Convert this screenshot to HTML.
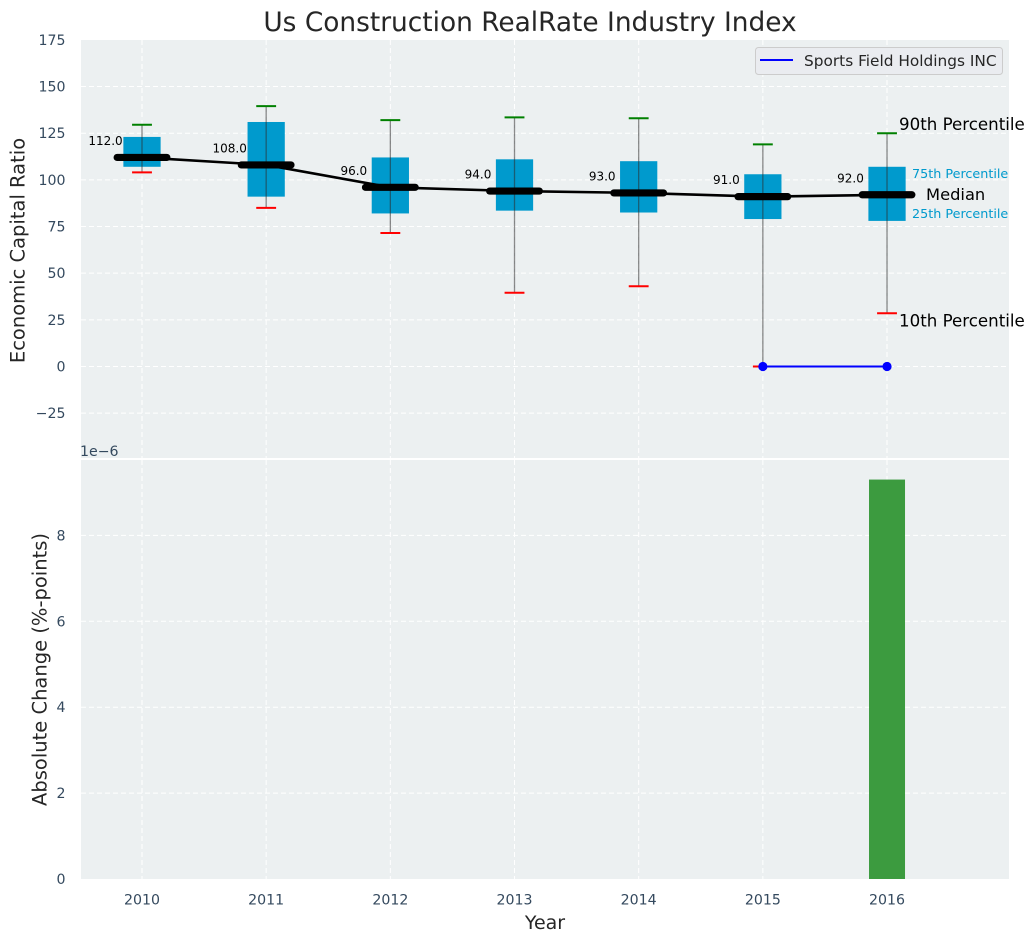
<!DOCTYPE html>
<html>
<head>
<meta charset="utf-8">
<title>Us Construction RealRate Industry Index</title>
<style>
html,body{margin:0;padding:0;background:#fff;width:1034px;height:942px;overflow:hidden}
svg{display:block}
text{font-family:"DejaVu Sans","Liberation Sans",sans-serif}
</style>
</head>
<body>
<svg id="chart" xmlns="http://www.w3.org/2000/svg" width="1034" height="942" viewBox="0 0 1034 942"></svg>
<script>
const years = [2010, 2011, 2012, 2013, 2014, 2015, 2016];
const p10 = [104, 85, 71.5, 39.5, 43, 0, 28.5];
const p25 = [107, 91, 82, 83.5, 82.5, 79, 78];
const medians = [112, 108, 96, 94, 93, 91, 92];
const p75 = [123, 131, 112, 111, 110, 103, 107];
const p90 = [129.5, 139.5, 132, 133.5, 133, 119, 125];
const companyYears = [2015, 2016];
const companyValues = [0, 0];
const changeYears = [2016];
const changeValues = [9.3];
const topTicks = [-25, 0, 25, 50, 75, 100, 125, 150, 175];
const bottomTicks = [0, 2, 4, 6, 8];
const titleText = 'Us Construction RealRate Industry Index';
const legendLabel = 'Sports Field Holdings INC';

const svg = document.getElementById('chart');
const NS = 'http://www.w3.org/2000/svg';
const left = 81, right = 1009;
const topY0 = 40, topY1 = 458, botY0 = 460, botY1 = 879;
const tickSize = 14.15;

function x(v) { return 142 + (v - 2010) * 124.17; }
function yTop(v) { return 366.5 - v * 1.8665; }
function yBot(v) { return 879 - v * 42.95; }

function make(tag, attrs, text) {
  const el = document.createElementNS(NS, tag);
  for (const k in attrs) el.setAttribute(k, attrs[k]);
  if (text !== undefined) el.textContent = text;
  svg.appendChild(el);
  return el;
}
function line(x1, y1, x2, y2, stroke, width, extra) {
  return make('line', Object.assign({x1: x1, y1: y1, x2: x2, y2: y2, stroke: stroke, 'stroke-width': width}, extra || {}));
}
function label(px, py, str, size, fill, anchor, extra) {
  return make('text', Object.assign({x: px, y: py, 'font-size': size, fill: fill, 'text-anchor': anchor || 'start'}, extra || {}), str);
}
function num(v) { return String(v).replace('-', '\u2212'); }

/* panels */
const topPanel = make('rect', {x: left, y: topY0, width: right - left, height: topY1 - topY0, fill: '#ecf0f1'});


const botPanel = make('rect', {x: left, y: botY0, width: right - left, height: botY1 - botY0, fill: '#ecf0f1'});



/* grid + ticks */
const dash = {'stroke-dasharray': '5 3'};
topTicks.forEach(function (t) {
  if (t < 175) {
    const g = line(left, yTop(t), right, yTop(t), '#ffffff', 1, dash);
    
    
  }
  const l = label(65.5, yTop(t) + 5, num(t), tickSize, '#34495e', 'end');
  
  
});
bottomTicks.forEach(function (t) {
  if (t > 0) {
    const g = line(left, yBot(t), right, yBot(t), '#ffffff', 1, dash);
    
    
  }
  const l = label(65.5, yBot(t) + 5, num(t), tickSize, '#34495e', 'end');
  
  
});
years.forEach(function (yr) {
  const g1 = line(x(yr), topY0, x(yr), topY1, '#ffffff', 1, dash);
  
  
  const g2 = line(x(yr), botY0, x(yr), botY1, '#ffffff', 1, dash);
  
  
  const l = label(x(yr), 904.5, String(yr), tickSize, '#34495e', 'middle');
  
  
});

/* boxes */
const boxHalf = 0.15, capHalf = 0.08, medHalf = 0.2;
years.forEach(function (yr, i) {
  const box = make('rect', {
    x: x(yr - boxHalf), y: yTop(p75[i]),
    width: x(yr + boxHalf) - x(yr - boxHalf),
    height: yTop(p25[i]) - yTop(p75[i]),
    fill: '#009acd'
  });
  
  
  const w = line(x(yr), yTop(p90[i]), x(yr), yTop(p10[i]), '#2b2b2b', 1.3, {'stroke-opacity': 0.55});
  
  
  const c1 = line(x(yr - capHalf), yTop(p90[i]), x(yr + capHalf), yTop(p90[i]), '#008000', 2);
  
  
  const c2 = line(x(yr - capHalf), yTop(p10[i]), x(yr + capHalf), yTop(p10[i]), '#ff0000', 2);
  
  
});

/* median connector */
const medianPath = make('polyline', {
  points: years.map(function (yr, i) { return x(yr) + ',' + yTop(medians[i]); }).join(' '),
  fill: 'none', stroke: '#000000', 'stroke-width': 2.6
});



years.forEach(function (yr, i) {
  const m = line(x(yr - medHalf), yTop(medians[i]), x(yr + medHalf), yTop(medians[i]), '#000000', 7.2, {'stroke-linecap': 'round'});
  
  
  const t = label(x(yr) - 36.5, yTop(medians[i]) - 12.5, medians[i].toFixed(1), 12, '#000000', 'middle');
  
  
});

/* company series */
const companyLine = make('polyline', {
  points: companyYears.map(function (yr, i) { return x(yr) + ',' + yTop(companyValues[i]); }).join(' '),
  fill: 'none', stroke: '#0000ff', 'stroke-width': 2
});


companyYears.forEach(function (yr, i) {
  const d = make('circle', {cx: x(yr), cy: yTop(companyValues[i]), r: 4.6, fill: '#0000ff'});
  
  
});

/* percentile annotations on the last box */
const last = years.length - 1;
const lastX = x(years[last]);
const a90 = label(lastX + 12, yTop(p90[last]) - 3, '90th Percentile', 16.67, '#000000');


const a10 = label(lastX + 12, yTop(p10[last]) + 13, '10th Percentile', 16.67, '#000000');


const aMed = label(lastX + 39, yTop(medians[last]) + 5, 'Median', 16.3, '#000000');


const a75 = label(lastX + 25, yTop(p75[last]) + 11, '75th Percentile', 12.75, '#009acd');


const a25 = label(lastX + 25, yTop(p25[last]) - 3, '25th Percentile', 12.75, '#009acd');



/* change bars */
changeYears.forEach(function (yr, i) {
  const b = make('rect', {
    x: x(yr - 0.145), y: yBot(changeValues[i]),
    width: x(yr + 0.145) - x(yr - 0.145),
    height: yBot(0) - yBot(changeValues[i]),
    fill: '#3c9b3f'
  });
  
  
});

/* legend */
const legendBox = make('rect', {x: 755.5, y: 47.5, width: 247, height: 27, rx: 3, fill: '#eaecf0', stroke: '#cccccc', 'stroke-width': 1});


const legendSwatch = line(760, 60, 793, 60, '#0000ff', 2);


const legendText = label(804, 66, legendLabel, 15.35, '#262626');



/* titles */
const title = label(530, 31, titleText, 26.4, '#262626', 'middle');


const xTitle = label(545, 929, 'Year', 19, '#262626', 'middle');


const yTitleTop = label(0, 0, 'Economic Capital Ratio', 19.5, '#262626', 'middle', {transform: 'translate(24.5 250.5) rotate(-90)'});


const yTitleBot = label(0, 0, 'Absolute Change (%-points)', 19.5, '#262626', 'middle', {transform: 'translate(46.5 669.5) rotate(-90)'});


const offset = label(80, 456, '1e\u22126', tickSize, '#34495e');


</script>
</body>
</html>
